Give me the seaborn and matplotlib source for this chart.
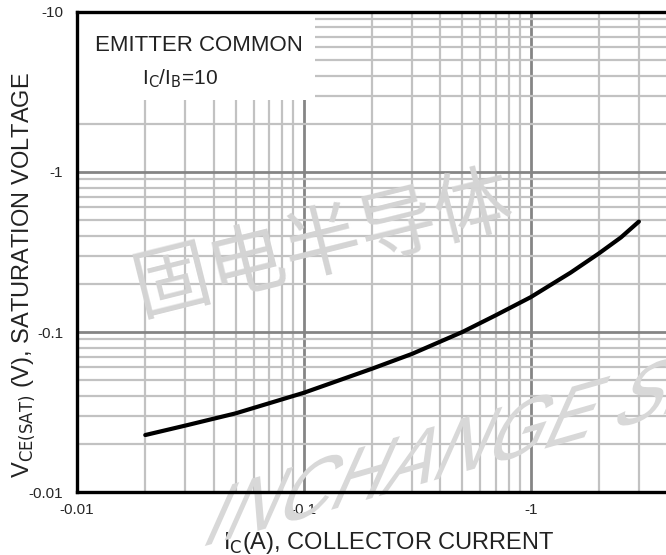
import numpy as np
import pandas as pd
import matplotlib
matplotlib.use('Agg')
import matplotlib.pyplot as plt
from matplotlib.ticker import LogLocator, FixedLocator, NullFormatter
from matplotlib.textpath import TextPath
from matplotlib.patches import PathPatch
from matplotlib.font_manager import FontProperties
from matplotlib.transforms import Affine2D, IdentityTransform
import seaborn as sns

# collector current |Ic| (A) and saturation voltage |Vce(sat)| (V)
ic_amp = [0.02, 0.03, 0.05, 0.1, 0.2, 0.3, 0.5, 0.7, 1.0, 1.5, 2.0, 2.5, 3.0]
vce_sat = [0.0227, 0.0260, 0.031, 0.0417, 0.059, 0.073, 0.100, 0.127, 0.165, 0.235, 0.31, 0.39, 0.49]

x_ticks = [0.01, 0.1, 1]
x_labels = ['-0.01', '-0.1', '-1']
y_ticks = [0.01, 0.1, 1, 10]
y_labels = ['-0.01', '-0.1', '-1', '-10']

df = pd.DataFrame({'ic': ic_amp, 'vce': vce_sat})

sns.set_style('white')
plt.rcParams['font.family'] = ['Liberation Sans', 'DejaVu Sans']

fig = plt.figure(figsize=(6.66, 5.55), dpi=100)
ax = fig.add_axes([0.1156, 0.1135, 0.8844, 0.8649])
ax.set_xscale('log')
ax.set_yscale('log')
ax.set_xlim(0.01, 3.95)
ax.set_ylim(0.01, 10)

# grid
ax.xaxis.set_major_locator(FixedLocator(x_ticks))
ax.yaxis.set_major_locator(FixedLocator(y_ticks))
ax.xaxis.set_minor_locator(LogLocator(base=10, subs=np.arange(2, 10)))
ax.yaxis.set_minor_locator(LogLocator(base=10, subs=np.arange(2, 10)))
ax.xaxis.set_minor_formatter(NullFormatter())
ax.yaxis.set_minor_formatter(NullFormatter())
ax.grid(which='minor', color='#c2c2c2', lw=1.6)
ax.grid(which='major', color='#858585', lw=2.0)
ax.set_axisbelow(True)

sns.lineplot(data=df, x='ic', y='vce', ax=ax, color='black', lw=3.0, zorder=5)

ax.set_xticklabels(x_labels, fontsize=11)
ax.set_yticklabels(y_labels, fontsize=11)
ax.tick_params(axis='x', which='both', length=0, pad=8)
ax.tick_params(axis='y', which='both', length=0, pad=10)

for s in ['left', 'bottom', 'top']:
    ax.spines[s].set_color('black')
    ax.spines[s].set_linewidth(2.4)
    ax.spines[s].set_zorder(6)
ax.spines['right'].set_visible(False)

ax.set_xlabel(r'I$_\mathrm{C}$(A), COLLECTOR CURRENT', fontsize=17, color='#222222', va='top')
ax.xaxis.set_label_coords(0.53, -0.079)
ax.set_ylabel(r'V$_\mathrm{CE(SAT)}$ (V), SATURATION VOLTAGE', fontsize=17, color='#222222')
ax.yaxis.set_label_coords(-0.068, 0.452)

# white label box in the top-left corner
ax.add_patch(plt.Rectangle((0.0, 0.817), 0.404, 0.183, transform=ax.transAxes,
                           facecolor='white', edgecolor='none', zorder=3))
ax.text(0.031, 0.93, 'EMITTER COMMON', transform=ax.transAxes, fontsize=16,
        color='#222222', va='center', ha='left', zorder=4)
ax.text(0.111, 0.86, r'I$_\mathrm{C}$/I$_\mathrm{B}$=10', transform=ax.transAxes,
        fontsize=15, color='#222222', va='center', ha='left', zorder=4)

# watermarks (behind the curve and spines)
ax.text(0.485, 0.557, '固电半导体', transform=fig.transFigure, fontsize=56, color='#d4d4d4',
        rotation=14, ha='center', va='center',
        family=['Noto Sans CJK SC', 'DejaVu Sans'], zorder=2, clip_on=False)
wm = TextPath((0, 0), 'INCHANGE SEMI', size=90, prop=FontProperties(family='Liberation Sans'))
wm_tr = Affine2D().scale(0.82, 1).skew_deg(24, 16).translate(198, 7) + IdentityTransform()
ax.add_artist(PathPatch(wm, transform=wm_tr, facecolor='#d8d8d8', edgecolor='none',
                        zorder=2, clip_on=False))

plt.savefig('out.png', dpi=100)
